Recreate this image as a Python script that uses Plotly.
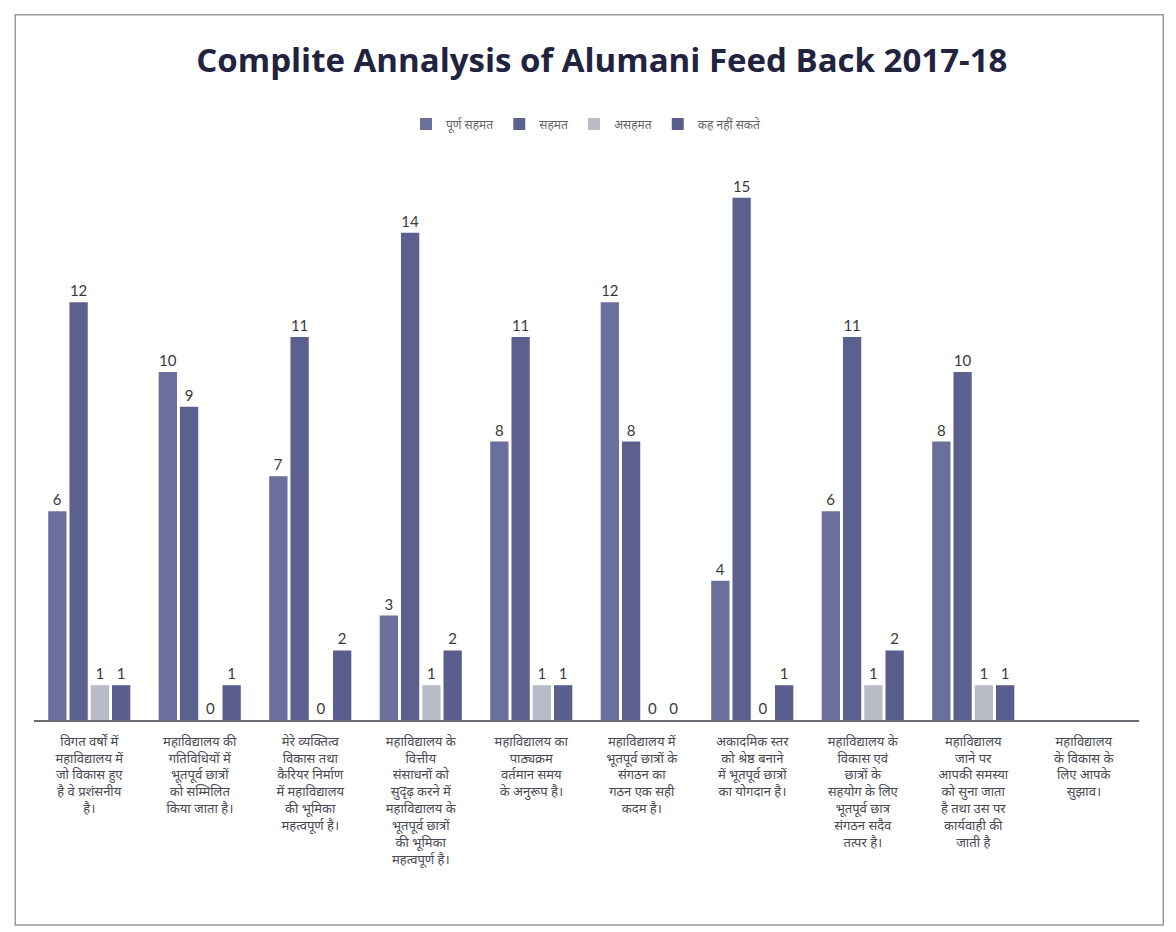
import plotly.graph_objects as go

categories = [
    "विगत वर्षों में<br>महाविद्यालय में<br>जो विकास हुए<br>है वे प्रशंसनीय<br>है।",
    "महाविद्यालय की<br>गतिविधियों में<br>भूतपूर्व छात्रों<br>को सम्मिलित<br>किया जाता है।",
    "मेरे व्यक्तित्व<br>विकास तथा<br>कैरियर निर्माण<br>में महाविद्यालय<br>की भूमिका<br>महत्वपूर्ण है।",
    "महाविद्यालय के<br>वित्तीय<br>संसाधनों को<br>सुदृढ़ करने में<br>महाविद्यालय के<br>भूतपूर्व छात्रों<br>की भूमिका<br>महत्वपूर्ण है।",
    "महाविद्यालय का<br>पाठ्यक्रम<br>वर्तमान समय<br>के अनुरूप है।",
    "महाविद्यालय में<br>भूतपूर्व छात्रों के<br>संगठन का<br>गठन एक सही<br>कदम है।",
    "अकादमिक स्तर<br>को श्रेष्ठ बनाने<br>में भूतपूर्व छात्रों<br>का योगदान है।",
    "महाविद्यालय के<br>विकास एवं<br>छात्रों के<br>सहयोग के लिए<br>भूतपूर्व छात्र<br>संगठन सदैव<br>तत्पर है।",
    "महाविद्यालय<br>जाने पर<br>आपकी समस्या<br>को सुना जाता<br>है तथा उस पर<br>कार्यवाही की<br>जाती है",
    "महाविद्यालय<br>के विकास के<br>लिए आपके<br>सुझाव।",
]

series_names = ["पूर्ण सहमत", "सहमत", "असहमत", "कह नहीं सकते"]
fully_agree = [6, 10, 7, 3, 8, 12, 4, 6, 8, None]
agree = [12, 9, 11, 14, 11, 8, 15, 11, 10, None]
disagree = [1, 0, 0, 1, 1, 0, 0, 1, 1, None]
cant_say = [1, 1, 2, 2, 1, 0, 1, 2, 1, None]

series_values = [fully_agree, agree, disagree, cant_say]
colors = ["#6b6f9c", "#5c608f", "#b9bcc7", "#5a5e8d"]

fig = go.Figure()
for name, vals, col in zip(series_names, series_values, colors):
    fig.add_trace(go.Bar(
        x=categories, y=vals, name=name,
        marker=dict(color=col, line=dict(width=0)),
        text=[("" if v is None else str(v)) for v in vals],
        textposition="outside",
        constraintext="none",
        cliponaxis=False,
        textfont=dict(size=15, color="#3a3a3a", family="Lato, Open Sans, sans-serif"),
    ))

fig.update_layout(
    width=1176, height=932,
    paper_bgcolor="white", plot_bgcolor="white",
    margin=dict(l=26, r=45, t=155, b=220),
    barmode="group", bargap=0.23, bargroupgap=0.14,
    title=dict(
        text="<b>Complite Annalysis of Alumani Feed Back 2017-18</b>",
        x=0.505, xanchor="center", y=0.944, yanchor="middle",
        font=dict(size=33, color="#22233f", family="Open Sans, Lato, sans-serif"),
    ),
    legend=dict(
        orientation="h", x=0.5, xanchor="center", y=1.07, yanchor="middle",
        font=dict(size=12, color="#666666", family="Noto Sans, DejaVu Sans, sans-serif"),
        itemwidth=30, tracegroupgap=0,
    ),
    showlegend=True,
    font=dict(family="Noto Sans, DejaVu Sans, sans-serif", color="#444444"),
)

fig.update_xaxes(
    showline=True, linecolor="#6d6d7a", linewidth=2,
    ticks="outside", ticklen=8, tickcolor="rgba(0,0,0,0)",
    tickfont=dict(size=13, color="#4a4a55"),
    tickangle=0,
)
fig.update_yaxes(
    range=[0, 16], visible=False, showgrid=False, zeroline=False,
)

fig.add_shape(type="rect", xref="paper", yref="paper",
              x0=-0.017, x1=1.022, y0=-0.368, y1=1.266,
              line=dict(color="#9a9a9a", width=1.5))

fig.write_html("out.html")
